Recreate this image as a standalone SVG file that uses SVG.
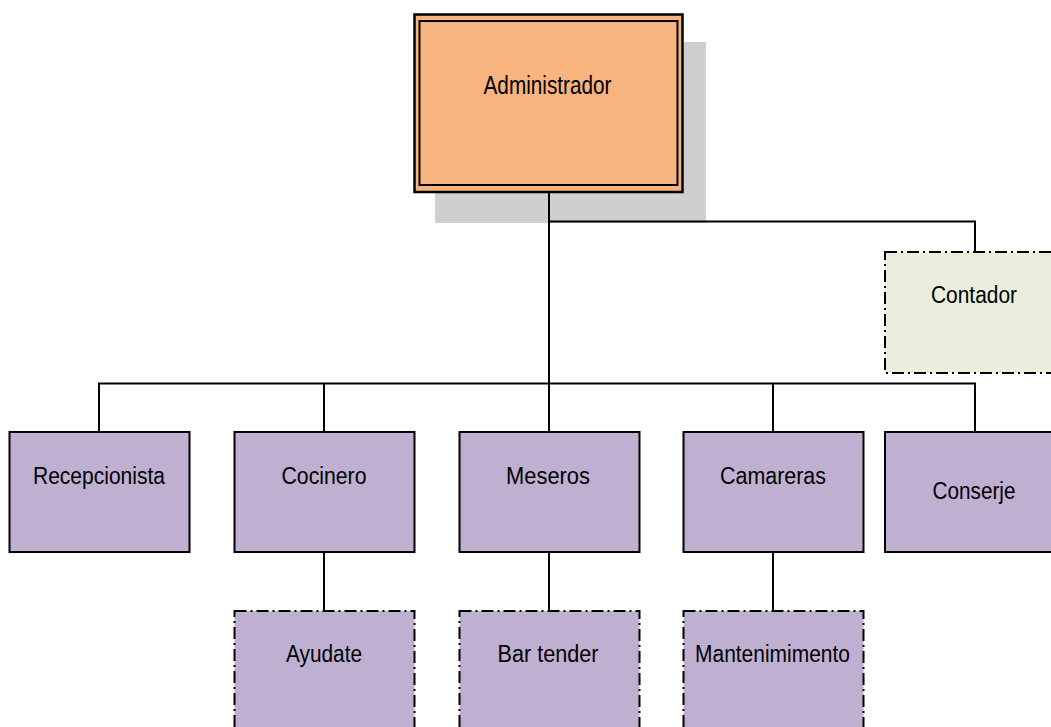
<svg xmlns="http://www.w3.org/2000/svg" width="1051" height="727" viewBox="0 0 1051 727">
<defs>
<style>
.box{fill:#bfb0d2;stroke:#000;stroke-width:2}
.dash{fill:#bfb0d2;stroke:#000;stroke-width:2;stroke-dasharray:12 4 2 4}
.acc{fill:#ebeedd;stroke:#000;stroke-width:2;stroke-dasharray:12 4 2 4}
.lbl{font-family:"Liberation Sans",Arial,sans-serif;font-size:23px;fill:#000;text-anchor:middle}
.con{fill:none;stroke:#000;stroke-width:2}
</style>
</defs>
<rect width="1051" height="727" fill="#ffffff"/>
<g id="administrador">
<rect x="435" y="42" width="271" height="181" fill="#cfcfcf"/>
<rect x="414.5" y="14.5" width="268" height="177.5" fill="#f8b47e" stroke="#000" stroke-width="2.5"/>
<rect x="419.5" y="21" width="258" height="164" fill="none" stroke="#000" stroke-width="2"/>
<text class="lbl" x="547.5" y="94" style="font-size:26px" textLength="128" lengthAdjust="spacingAndGlyphs">Administrador</text>
</g>
<g id="connectors">
<path class="con" d="M549,193 V383"/>
<path class="con" d="M549,221.5 H975 V252"/>
<path class="con" d="M99,432 V383.5 H975 V432"/>
<path class="con" d="M324,383.5 V432 M773,383.5 V432 M549,383 V432"/>
<path class="con" d="M324,552 V611 M549,552 V611 M773,552 V611"/>
</g>
<g id="contador">
<rect class="acc" x="885" y="252" width="180" height="121"/>
<text class="lbl" x="974" y="303" textLength="86" lengthAdjust="spacingAndGlyphs">Contador</text>
</g>
<g id="recepcionista">
<rect class="box" x="9.5" y="432" width="180" height="120"/>
<text class="lbl" x="99" y="484" textLength="132" lengthAdjust="spacingAndGlyphs">Recepcionista</text>
</g>
<g id="cocinero">
<rect class="box" x="234.5" y="432" width="180" height="120"/>
<text class="lbl" x="324" y="484" textLength="85" lengthAdjust="spacingAndGlyphs">Cocinero</text>
</g>
<g id="meseros">
<rect class="box" x="459.5" y="432" width="180" height="120"/>
<text class="lbl" x="548" y="484" textLength="84" lengthAdjust="spacingAndGlyphs">Meseros</text>
</g>
<g id="camareras">
<rect class="box" x="683.5" y="432" width="180" height="120"/>
<text class="lbl" x="773" y="484" textLength="106" lengthAdjust="spacingAndGlyphs">Camareras</text>
</g>
<g id="conserje">
<rect class="box" x="885" y="432" width="180" height="120"/>
<text class="lbl" x="974" y="499" textLength="83" lengthAdjust="spacingAndGlyphs">Conserje</text>
</g>
<g id="ayudate">
<rect class="dash" x="234.5" y="611" width="180" height="120"/>
<text class="lbl" x="324" y="662" textLength="76" lengthAdjust="spacingAndGlyphs">Ayudate</text>
</g>
<g id="bartender">
<rect class="dash" x="459.5" y="611" width="180" height="120"/>
<text class="lbl" x="548" y="662" textLength="101" lengthAdjust="spacingAndGlyphs">Bar tender</text>
</g>
<g id="mantenimiento">
<rect class="dash" x="683.5" y="611" width="180" height="120"/>
<text class="lbl" x="772.5" y="662" textLength="155" lengthAdjust="spacingAndGlyphs">Mantenimimento</text>
</g>
</svg>
